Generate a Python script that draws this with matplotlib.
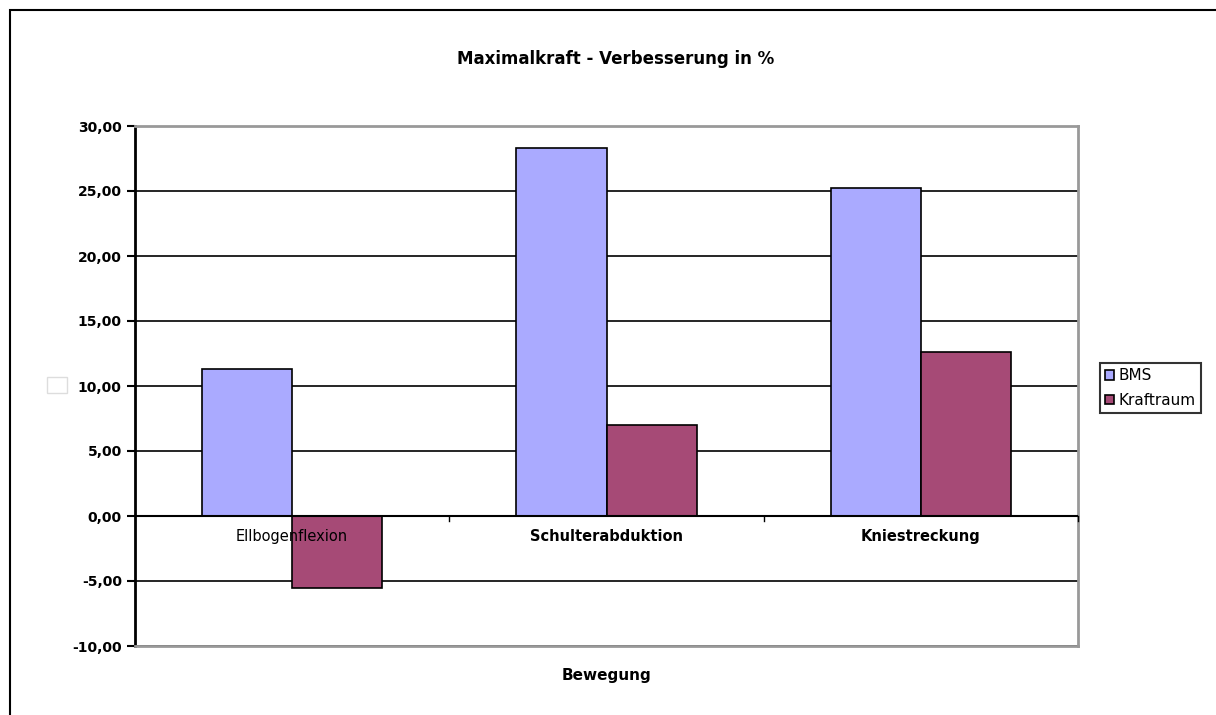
import matplotlib.pyplot as plt
from matplotlib.patches import Rectangle

# data
uebungen = ["Ellbogenflexion", "Schulterabduktion", "Kniestreckung"]
bms = [11.3, 28.3, 25.2]
kraftraum = [-5.5, 7.0, 12.6]
y_ticks = [-10, -5, 0, 5, 10, 15, 20, 25, 30]

fig = plt.figure(figsize=(12.16, 7.15), dpi=100)

# outer chart frame (runs off the right/bottom edge like the screenshot)
fig.patches.append(Rectangle((10 / 1216, -0.05), 1.2, 1 - 10 / 715 + 0.05,
                             transform=fig.transFigure, fill=False,
                             edgecolor="black", linewidth=1.5))
fig.patches.append(Rectangle((47 / 1216, 1 - 393 / 715), 20 / 1216, 16 / 715,
                             transform=fig.transFigure, fill=False,
                             edgecolor="#dddddd", linewidth=1))

ax = fig.add_axes([135 / 1216, 1 - 646 / 715, 943 / 1216, 520 / 715])

x = range(len(uebungen))
w = 0.287
ax.bar([i - w / 2 for i in x], bms, width=w, color="#aaaaff",
       edgecolor="black", linewidth=1.2, label="BMS", zorder=3)
ax.bar([i + w / 2 for i in x], kraftraum, width=w, color="#a64a76",
       edgecolor="black", linewidth=1.2, label="Kraftraum", zorder=3)

ax.set_xlim(-0.5, 2.5)
ax.set_ylim(-10, 30)
ax.set_yticks(y_ticks)
ax.set_yticklabels([f"{v:.2f}".replace(".", ",") for v in y_ticks],
                   fontweight="bold", fontsize=10)
ax.set_xticks([])
for v in y_ticks[:-1]:
    ax.axhline(v, color="black", linewidth=1.2, zorder=1)

# category axis crossing at zero
ax.axhline(0, color="black", linewidth=1.5, zorder=4)
for b in [0.5, 1.5, 2.5]:
    ax.plot([b, b], [0, -0.35], color="black", linewidth=1, zorder=4, clip_on=False)
for i, name in enumerate(uebungen):
    ax.text(i, -1.0, name, ha="center", va="top", fontsize=10.5,
            fontweight="bold" if i else "normal", zorder=5)

for side in ["top", "right", "bottom"]:
    ax.spines[side].set_color("#999999")
    ax.spines[side].set_linewidth(2)
ax.spines["left"].set_color("black")
ax.spines["left"].set_linewidth(2)
ax.tick_params(axis="y", length=6, width=1.5, direction="out")

ax.set_title("Maximalkraft - Verbesserung in %", fontsize=12, fontweight="bold",
             pad=45, x=0.51)
ax.set_xlabel("Bewegung", fontsize=11, fontweight="bold", labelpad=16)

leg = ax.legend(loc="center left", bbox_to_anchor=((1100 - 135) / 943, 0.496),
                fontsize=11, frameon=True, fancybox=False, edgecolor="black",
                handlelength=0.55, handleheight=0.55, handletextpad=0.3,
                borderpad=0.35, labelspacing=0.6, borderaxespad=0)
leg.get_frame().set_linewidth(1.5)

fig.savefig("out.png", dpi=100)
